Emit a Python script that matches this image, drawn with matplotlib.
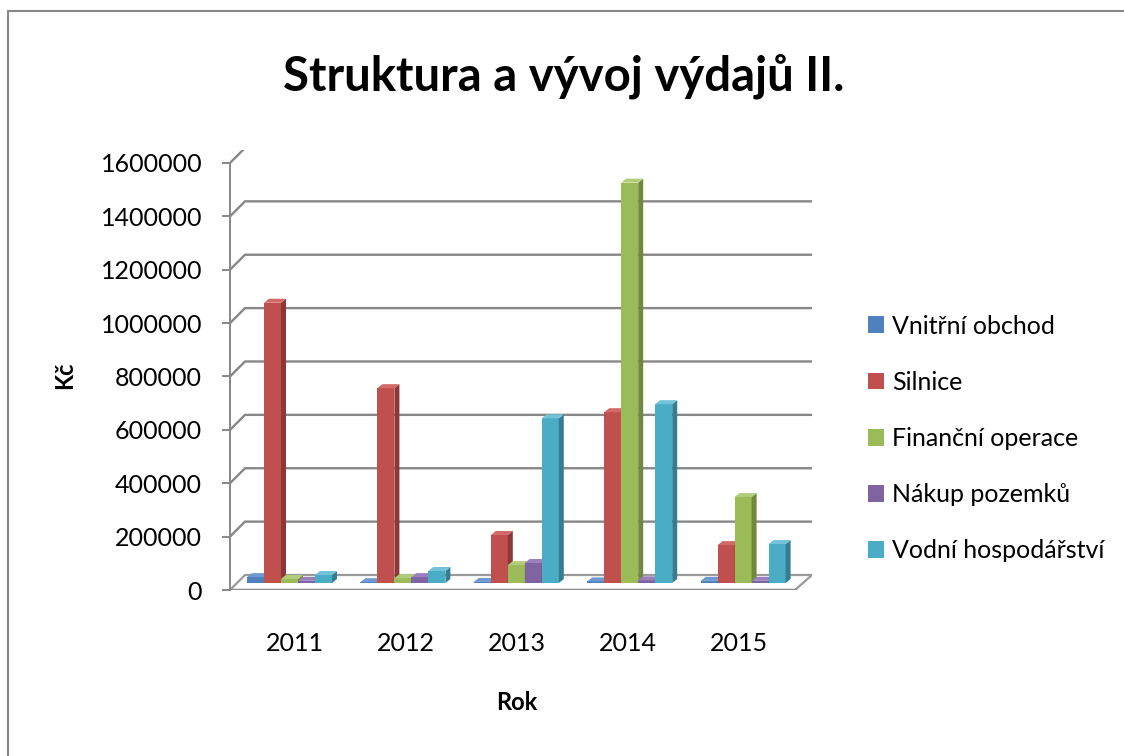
import matplotlib
matplotlib.use("Agg")
import matplotlib.pyplot as plt
from matplotlib.patches import Polygon, Patch, Rectangle
import numpy as np

plt.rcParams['font.family'] = ['Lato', 'DejaVu Sans']

# ---- data ----
years = ["2011", "2012", "2013", "2014", "2015"]
series_names = ["Vnitřní obchod", "Silnice", "Finanční operace", "Nákup pozemků", "Vodní hospodářství"]
vnitrni_obchod = [22000, 3000, 4000, 6000, 8000]
silnice = [1050000, 730000, 180000, 640000, 142000]
financni_operace = [15000, 18000, 67000, 1500000, 322000]
nakup_pozemku = [8000, 22000, 75000, 10000, 8000]
vodni_hospodarstvi = [30000, 45000, 617000, 670000, 146000]
yticks = [0, 200000, 400000, 600000, 800000, 1000000, 1200000, 1400000, 1600000]

series = [vnitrni_obchod, silnice, financni_operace, nakup_pozemku, vodni_hospodarstvi]
front_cols = ["#4F81BD", "#C0504D", "#9BBB59", "#8064A2", "#4BACC6"]
side_cols = ["#385D8A", "#8C3836", "#71893F", "#5C4776", "#357D91"]
top_cols = ["#6E9AD0", "#D26A67", "#B2CD7A", "#9B80BD", "#72C3DA"]

W, H = 1124, 756
fig = plt.figure(figsize=(W / 100, H / 100), dpi=100)

# pixel geometry
px_left, px_right, px_bottom, px_top = 230, 812, 590, 150
px_per_cat = 113.4
px_per_val = 266.9 / 1e6
group0_px = 289.5

ax = fig.add_axes([px_left / W, (H - px_bottom) / H, (px_right - px_left) / W, (px_bottom - px_top) / H])
xmin = (px_left - group0_px) / px_per_cat
xmax = (px_right - group0_px) / px_per_cat
ax.set_xlim(xmin, xmax)
ax.set_ylim(0, (px_bottom - px_top) / px_per_val)
for s in ax.spines.values():
    s.set_visible(False)

grid_col = "#878787"
Dx = 15 / px_per_cat
Dy = 15 / px_per_val
front_right = (795 - group0_px) / px_per_cat

# back wall gridlines (with slanted part on the left side wall)
for v in yticks[1:]:
    ax.plot([xmin, xmin + Dx, xmax], [v, v + Dy, v + Dy], color=grid_col, lw=1.7,
            solid_joinstyle='miter', zorder=1)

# floor
floor = Polygon([(xmin, 0), (front_right, 0), (xmax, Dy), (xmin + Dx, Dy)], closed=True,
                facecolor="#ffffff", edgecolor="#9a9a9a", lw=1.6, zorder=1)
ax.add_patch(floor)
ax.plot([xmin, front_right], [0, 0], color="#8a8a8a", lw=2.4, zorder=1.5)

# left axis line
ax.plot([xmin, xmin], [0, yticks[-1]], color=grid_col, lw=1.4, zorder=2, clip_on=False)

# bars with pseudo 3D faces
w = 17.0 / px_per_cat
B = 7 / px_per_val
dx = 5 / px_per_cat
dy = 4 / px_per_val
x = np.arange(len(years))
z = 3
for i in range(len(years)):
    for j, vals in enumerate(series):
        xc = x[i] + (j - 2) * w
        v = vals[i]
        ax.bar(xc, v, width=w, bottom=B, color=front_cols[j], edgecolor='none', zorder=z)
        xr = xc + w / 2
        xl = xc - w / 2
        ax.add_patch(Polygon([(xr, B), (xr + dx, B + dy), (xr + dx, B + v + dy), (xr, B + v)],
                             closed=True, facecolor=side_cols[j], edgecolor='none', zorder=z))
        ax.add_patch(Polygon([(xl, B + v), (xr, B + v), (xr + dx, B + v + dy), (xl + dx, B + v + dy)],
                             closed=True, facecolor=top_cols[j], edgecolor='none', zorder=z))
        z += 0.01

# ticks
ax.set_yticks(yticks)
ax.set_yticklabels([str(t) for t in yticks], fontsize=18)
ax.tick_params(axis='y', length=6, width=1.4, color=grid_col, pad=14)
label_x = [(295 + 111 * k - group0_px) / px_per_cat for k in range(len(years))]
ax.set_xticks(label_x)
ax.set_xticklabels(years, fontsize=18)
ax.tick_params(axis='x', length=0, pad=30)

# texts
fig.text(564 / W, 1 - 76 / H, "Struktura a vývoj výdajů II.", ha='center', va='center',
         fontsize=34, fontweight='bold')
fig.text(65 / W, 1 - 375 / H, "Kč", ha='center', va='center', rotation=90,
         fontsize=17, fontweight='bold')
fig.text(517 / W, 1 - 703 / H, "Rok", ha='center', va='center', fontsize=17, fontweight='bold')

# legend
handles = [Patch(facecolor=c, edgecolor='none') for c in front_cols]
fig.legend(handles, series_names, loc='upper left', bbox_to_anchor=(845 / W, 1 - 292 / H),
           frameon=False, fontsize=18, handlelength=0.65, handleheight=0.65,
           handletextpad=0.35, labelspacing=1.33)

# outer border
fig.patches.append(Rectangle((8 / W, -0.05), 1.2, 1.05 - 11 / H, transform=fig.transFigure,
                             fill=False, edgecolor="#878787", lw=1.5))

fig.savefig("out.png", dpi=100)
